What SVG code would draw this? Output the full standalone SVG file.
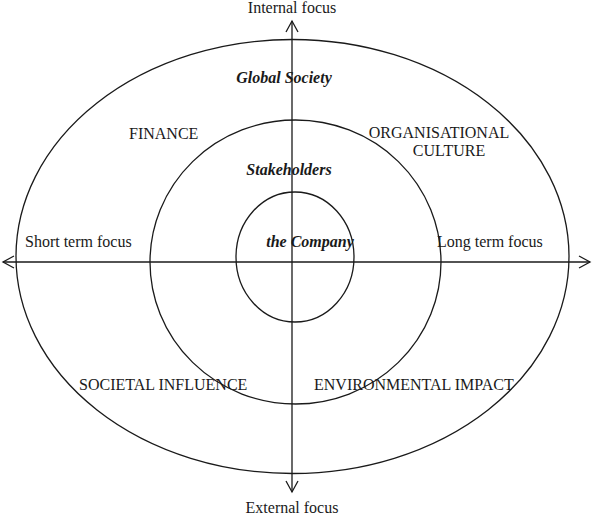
<svg xmlns="http://www.w3.org/2000/svg" width="594" height="517" viewBox="0 0 594 517">
<style>
.t{font-family:"Liberation Serif","Times New Roman",serif;font-size:16px;fill:#1a1a1a}
.b{font-weight:bold;font-style:italic}
.e{fill:none;stroke:#1a1a1a;stroke-width:1.3}
.a{fill:none;stroke:#1a1a1a;stroke-width:1.3}
</style>
<rect width="594" height="517" fill="#fff"/>
<g id="outer"><ellipse class="e" cx="292.5" cy="256.5" rx="276.5" ry="217"/></g>
<g id="middle"><ellipse class="e" cx="295.5" cy="262" rx="145.5" ry="142"/></g>
<g id="inner"><ellipse class="e" cx="295" cy="257" rx="59" ry="65"/></g>
<g id="connectors">
<line class="a" x1="292" y1="21" x2="292" y2="492"/>
<line class="a" x1="3" y1="262" x2="590" y2="262"/>
<polyline class="a" points="286,32 292,21 298,32"/>
<polyline class="a" points="286,481 292,492 298,481"/>
<polyline class="a" points="14,256 3,262 14,268"/>
<polyline class="a" points="579,256 590,262 579,268"/>
</g>
<g id="labels">
<text class="t" x="292" y="13" text-anchor="middle">Internal focus</text>
<text class="t" x="292" y="513" text-anchor="middle">External focus</text>
<text class="t" x="25" y="247">Short term focus</text>
<text class="t" x="437" y="247">Long term focus</text>
<text class="t" x="129" y="139">FINANCE</text>
<text class="t" x="439" y="138" text-anchor="middle">ORGANISATIONAL</text>
<text class="t" x="449" y="156" text-anchor="middle">CULTURE</text>
<text class="t" x="79" y="390">SOCIETAL INFLUENCE</text>
<text class="t" x="314" y="390">ENVIRONMENTAL IMPACT</text>
</g>
<g id="global"><text class="t b" x="284" y="83" text-anchor="middle">Global Society</text></g>
<g id="stakeholders"><text class="t b" x="289" y="175" text-anchor="middle">Stakeholders</text></g>
<g id="company"><text class="t b" x="310" y="247" text-anchor="middle">the Company</text></g>
</svg>
